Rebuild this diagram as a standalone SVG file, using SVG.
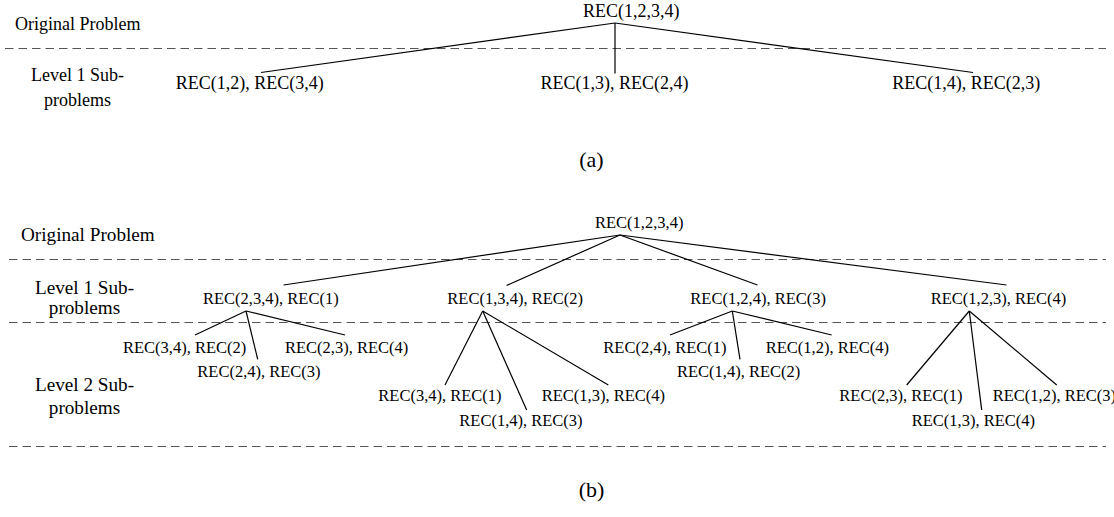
<svg xmlns="http://www.w3.org/2000/svg" width="1114" height="517" viewBox="0 0 1114 517">
<style>
text{font-family:"Liberation Serif","Times New Roman",serif;fill:#000}
.la{font-size:18px}
.na{font-size:18px}
.lb{font-size:19.2px}
.nb{font-size:16.5px}
.cap{font-size:22px}
.dash{stroke:#555;stroke-width:1.2;stroke-dasharray:8.5 5;fill:none}
.edge{stroke:#000;stroke-width:1.2;fill:none}
</style>
<rect width="1114" height="517" fill="#fff"/>
<g id="guides">
<line class="dash" x1="5" y1="48.5" x2="1106" y2="48.5"/>
<line class="dash" x1="9" y1="259.5" x2="1106" y2="259.5"/>
<line class="dash" x1="9" y1="322.5" x2="1106" y2="322.5"/>
<line class="dash" x1="9" y1="446.5" x2="1106" y2="446.5"/>
</g>
<g id="labels">
<text class="la" x="15" y="30">Original Problem</text>
<text class="la" x="77.5" y="81" text-anchor="middle">Level 1 Sub-</text>
<text class="la" x="77.5" y="106" text-anchor="middle">problems</text>
<text class="cap" x="591.5" y="167" text-anchor="middle">(a)</text>
<text class="lb" x="21" y="241">Original Problem</text>
<text class="lb" x="84.5" y="294" text-anchor="middle">Level 1 Sub-</text>
<text class="lb" x="84.5" y="314" text-anchor="middle">problems</text>
<text class="lb" x="84.5" y="391" text-anchor="middle">Level 2 Sub-</text>
<text class="lb" x="84.5" y="414" text-anchor="middle">problems</text>
<text class="cap" x="591.5" y="497" text-anchor="middle">(b)</text>
</g>
<g id="connectors">
<line class="edge" x1="615" y1="23" x2="261" y2="72.5"/>
<line class="edge" x1="615" y1="23" x2="615" y2="73.5"/>
<line class="edge" x1="615" y1="23" x2="973" y2="72.5"/>
<line class="edge" x1="620" y1="235" x2="283.5" y2="285"/>
<line class="edge" x1="620" y1="235" x2="506.5" y2="285.5"/>
<line class="edge" x1="620" y1="235" x2="757.5" y2="285"/>
<line class="edge" x1="620" y1="235" x2="1006.5" y2="285"/>
<line class="edge" x1="246" y1="311" x2="195" y2="335"/>
<line class="edge" x1="246" y1="311" x2="257.7" y2="359.3"/>
<line class="edge" x1="246" y1="311" x2="345" y2="335"/>
<line class="edge" x1="482.7" y1="311" x2="445" y2="385"/>
<line class="edge" x1="482.7" y1="311" x2="526.7" y2="410"/>
<line class="edge" x1="482.7" y1="311" x2="608.3" y2="385"/>
<line class="edge" x1="732.3" y1="311" x2="670" y2="335"/>
<line class="edge" x1="732.3" y1="311" x2="740" y2="359.3"/>
<line class="edge" x1="732.3" y1="311" x2="831.7" y2="335"/>
<line class="edge" x1="969.3" y1="311" x2="906.7" y2="385"/>
<line class="edge" x1="969.3" y1="311" x2="981.7" y2="410"/>
<line class="edge" x1="969.3" y1="311" x2="1056.7" y2="385"/>
</g>
<g id="a-root"><text class="na" x="583" y="17">REC(1,2,3,4)</text></g>
<g id="a-n1"><text class="na" x="175.7" y="89">REC(1,2), REC(3,4)</text></g>
<g id="a-n2"><text class="na" x="540.4" y="89">REC(1,3), REC(2,4)</text></g>
<g id="a-n3"><text class="na" x="892.3" y="89">REC(1,4), REC(2,3)</text></g>
<g id="b-root"><text class="nb" x="595" y="228">REC(1,2,3,4)</text></g>
<g id="b-n1"><text class="nb" x="203" y="304">REC(2,3,4), REC(1)</text></g>
<g id="b-n2"><text class="nb" x="447.3" y="304">REC(1,3,4), REC(2)</text></g>
<g id="b-n3"><text class="nb" x="690.3" y="304">REC(1,2,4), REC(3)</text></g>
<g id="b-n4"><text class="nb" x="930.7" y="304">REC(1,2,3), REC(4)</text></g>
<g id="b-n11"><text class="nb" x="123" y="353">REC(3,4), REC(2)</text></g>
<g id="b-n12"><text class="nb" x="197.3" y="377">REC(2,4), REC(3)</text></g>
<g id="b-n13"><text class="nb" x="285" y="353">REC(2,3), REC(4)</text></g>
<g id="b-n21"><text class="nb" x="378.3" y="401">REC(3,4), REC(1)</text></g>
<g id="b-n22"><text class="nb" x="459.3" y="426">REC(1,4), REC(3)</text></g>
<g id="b-n23"><text class="nb" x="541.7" y="401">REC(1,3), REC(4)</text></g>
<g id="b-n31"><text class="nb" x="603.3" y="353">REC(2,4), REC(1)</text></g>
<g id="b-n32"><text class="nb" x="677" y="377">REC(1,4), REC(2)</text></g>
<g id="b-n33"><text class="nb" x="765.7" y="353">REC(1,2), REC(4)</text></g>
<g id="b-n41"><text class="nb" x="839.3" y="401">REC(2,3), REC(1)</text></g>
<g id="b-n42"><text class="nb" x="911.7" y="426">REC(1,3), REC(4)</text></g>
<g id="b-n43"><text class="nb" x="992.7" y="401">REC(1,2), REC(3)</text></g>
</svg>
